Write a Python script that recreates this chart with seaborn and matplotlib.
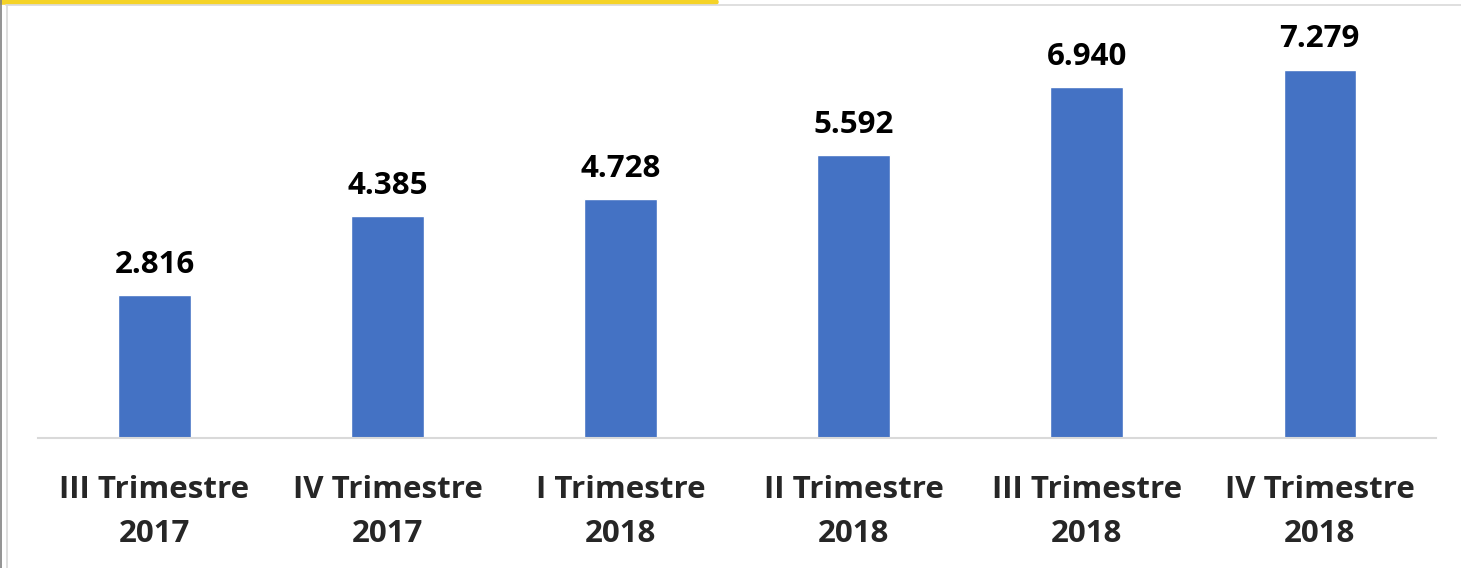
import matplotlib
matplotlib.use("Agg")
import matplotlib.pyplot as plt
import seaborn as sns
import pandas as pd
from matplotlib.lines import Line2D

# Chart data
categories = ["III Trimestre\n2017", "IV Trimestre\n2017", "I Trimestre\n2018",
              "II Trimestre\n2018", "III Trimestre\n2018", "IV Trimestre\n2018"]
values = [2816, 4385, 4728, 5592, 6940, 7279]
value_labels = ["2.816", "4.385", "4.728", "5.592", "6.940", "7.279"]

df = pd.DataFrame({"periodo": categories, "valor": values})

sns.set_style("white")
plt.rcParams['font.family'] = ['Open Sans', 'DejaVu Sans']

fig = plt.figure(figsize=(14.61, 5.68), dpi=100)
ax = fig.add_axes([0.026, 0.229, 0.957, 0.709])

sns.barplot(data=df, x="periodo", y="valor", color="#4472C4", width=0.31,
            saturation=1, ax=ax)

for i, (v, lab) in enumerate(zip(values, value_labels)):
    ax.text(i, v + 300, lab, ha="center", va="bottom", fontsize=22.5,
            fontweight="bold", color="black")

ax.set_ylim(0, 7960)
ax.set_xlim(-0.5, len(categories) - 0.5)
ax.set_yticks([])
ax.set_xlabel("")
ax.set_ylabel("")
ax.tick_params(axis="x", length=0, pad=27)
for lab in ax.get_xticklabels():
    lab.set_fontsize(22.5)
    lab.set_fontweight("bold")
    lab.set_linespacing(1.6)

for s in ["top", "right", "left"]:
    ax.spines[s].set_visible(False)
ax.spines["bottom"].set_color("#D9D9D9")
ax.spines["bottom"].set_linewidth(1.5)

# frame decorations: yellow strip on top, grey borders
fig.add_artist(Line2D([0, 0.49], [0.997, 0.997], color="#F5D327", lw=4,
                      transform=fig.transFigure))
fig.add_artist(Line2D([0.004, 1], [0.991, 0.991], color="#D9D9D9", lw=1.2,
                      transform=fig.transFigure))
fig.add_artist(Line2D([0.0008, 0.0008], [0, 1], color="#808080", lw=1.2,
                      transform=fig.transFigure))
fig.add_artist(Line2D([0.0045, 0.0045], [0, 0.991], color="#D9D9D9", lw=1.2,
                      transform=fig.transFigure))

fig.savefig("out.png", dpi=100)
